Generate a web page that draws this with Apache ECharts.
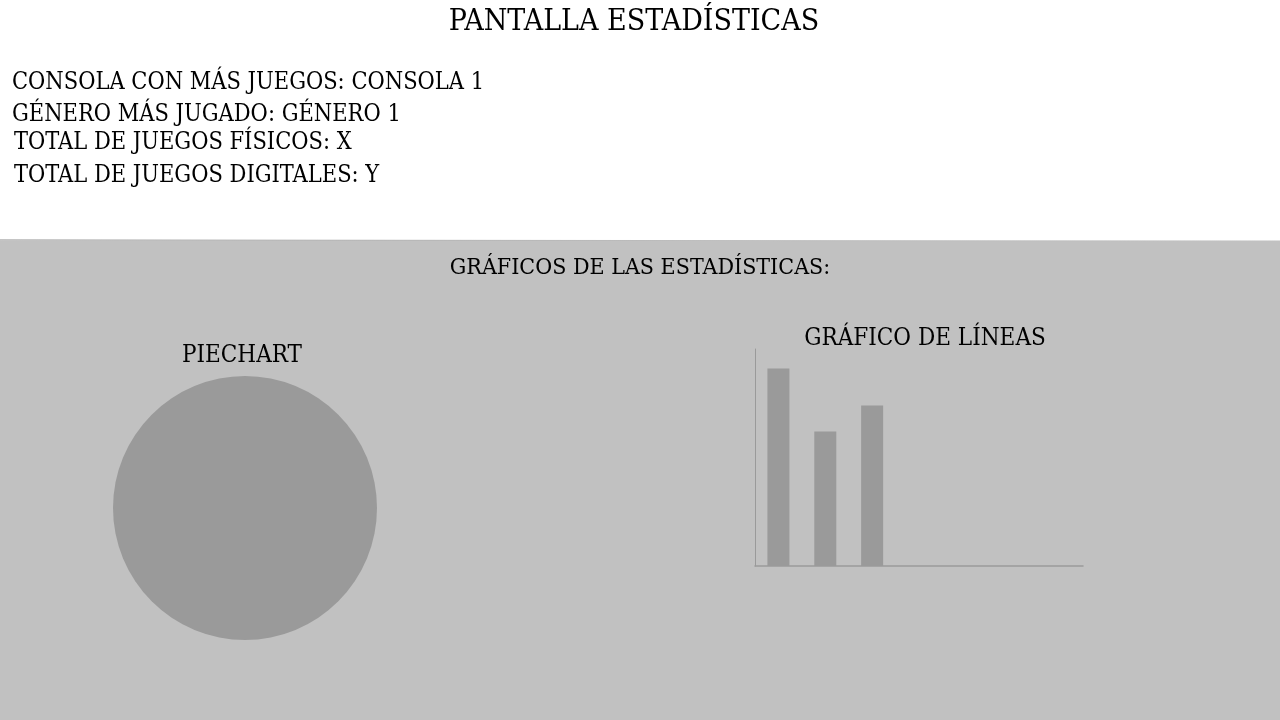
<!DOCTYPE html>
<html>
<head>
<meta charset="utf-8">
<script src="https://cdn.jsdelivr.net/npm/echarts@6/dist/echarts.min.js"></script>
<style>
html,body{margin:0;padding:0;background:#fff;}
#c{width:1280px;height:720px;}
</style>
</head>
<body>
<div id="c"></div>
<script>
const infoLines = [
  'CONSOLA CON MÁS JUEGOS: CONSOLA 1',
  'GÉNERO MÁS JUGADO: GÉNERO 1',
  'TOTAL DE JUEGOS FÍSICOS: X',
  'TOTAL DE JUEGOS DIGITALES: Y'
];
const pieData = [{ name: 'Total', value: 1 }];
const barCategories = ['1', '2', '3', '4', '5', '6', '7'];
const barValues = [9.1, 6.2, 7.4, null, null, null, null];

const FONT = '"DejaVu Serif Condensed", "DejaVu Serif", serif';
const chart = echarts.init(document.getElementById('c'), null, { renderer: 'canvas' });
const infoTops = [71, 103, 131, 164];
const infoLefts = [12, 12, 14, 14];

function txt(text, left, top, size, align) {
  return { text: text, left: left, top: top, padding: 0, textAlign: align || 'left',
    textStyle: { fontFamily: FONT, fontSize: size, fontWeight: 'normal', color: '#000' } };
}

chart.setOption({
  animation: false,
  graphic: [
    { type: 'rect', z: -10, shape: { x: 0, y: 241, width: 1280, height: 479 }, style: { fill: '#c1c1c1' } },
    { type: 'line', z: -9, shape: { x1: 0, y1: 240, x2: 1280, y2: 241 },
      style: { stroke: new echarts.graphic.LinearGradient(0, 0, 1, 0, [
        { offset: 0, color: '#888' }, { offset: 0.5, color: '#bbb' }, { offset: 1, color: '#c1c1c1' }]), lineWidth: 1 } }
  ],
  title: [
    txt('PANTALLA ESTADÍSTICAS', 634, 7, 30, 'center'),
    ...infoLines.map((t, i) => txt(t, infoLefts[i], infoTops[i], 23.4)),
    txt('GRÁFICOS DE LAS ESTADÍSTICAS:', 640, 257, 23, 'center'),
    txt('PIECHART', 242, 344, 24, 'center'),
    txt('GRÁFICO DE LÍNEAS', 925, 327, 24, 'center')
  ],
  grid: { left: 755, top: 349, width: 328, height: 217, containLabel: false },
  xAxis: {
    type: 'category', data: barCategories,
    axisLine: { show: true, lineStyle: { color: '#9a9a9a', width: 1.5 } },
    axisTick: { show: false }, axisLabel: { show: false }, splitLine: { show: false }
  },
  yAxis: {
    type: 'value', min: 0, max: 10,
    axisLine: { show: true, lineStyle: { color: '#9a9a9a', width: 1 } },
    axisTick: { show: false }, axisLabel: { show: false }, splitLine: { show: false }
  },
  series: [
    { type: 'bar', data: barValues, barWidth: 22, itemStyle: { color: '#9a9a9a' }, silent: true },
    { type: 'pie', center: [245, 508], radius: [0, 132], data: pieData,
      label: { show: false }, labelLine: { show: false }, silent: true,
      itemStyle: { color: '#9a9a9a' } }
  ]
});
</script>
</body>
</html>
